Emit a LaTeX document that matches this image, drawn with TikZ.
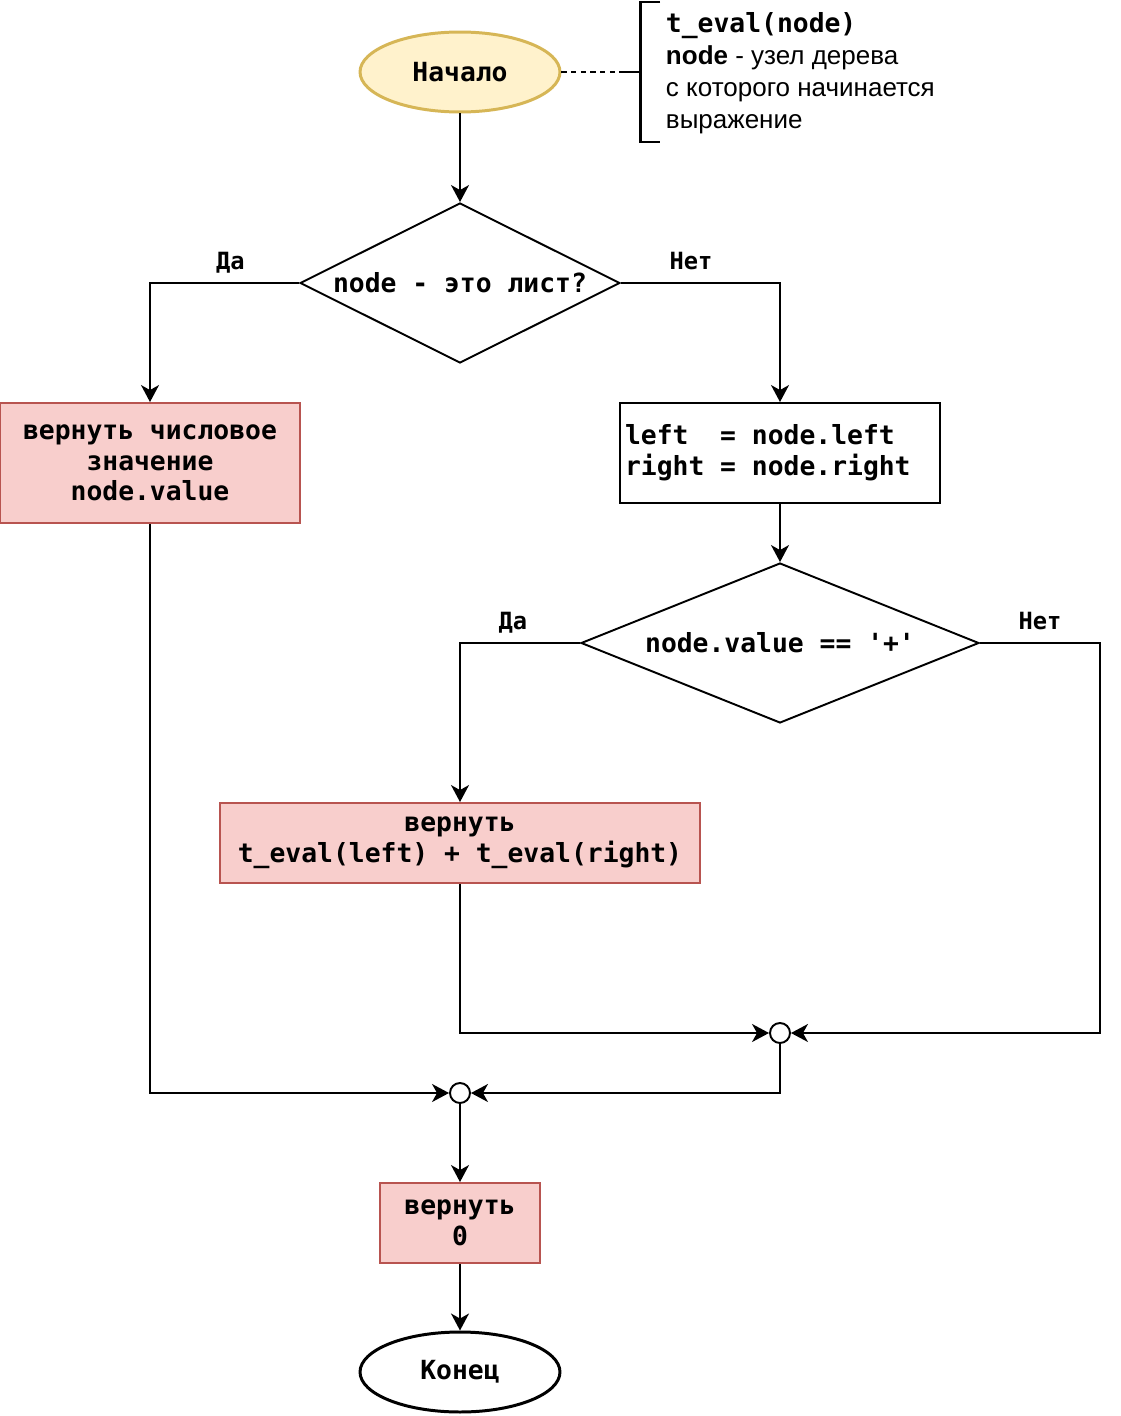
\documentclass[tikz,border=0pt]{standalone}
\usepackage{fontspec}
\setmainfont{Liberation Sans}
\setmonofont{DejaVu Sans Mono}
\usetikzlibrary{arrows.meta, positioning, shapes.geometric}
\definecolor{cyellow}{HTML}{FFF2CC}
\definecolor{cyellowd}{HTML}{D6B656}
\definecolor{cred}{HTML}{F8CECC}
\definecolor{credd}{HTML}{B85450}
\tikzset{
  every picture/.style={line width=1.1pt},
  plain/.style={execute at begin node={\spaceskip=0pt\xspaceskip=0pt}},
  code/.style={plain, font=\ttfamily\bfseries\fontsize{15}{17.5}\selectfont},
  box/.style={code, draw, rectangle, align=center, inner sep=3pt},
  ret/.style={box, draw=credd, fill=cred},
  cond/.style={code, draw, diamond, aspect=2, inner sep=0pt, minimum width=#1, minimum height=3.2cm},
  cond/.default=6.4cm,
  term/.style={code, draw, ellipse, minimum width=4cm, minimum height=1.6cm, line width=1.7pt},
  junction/.style={draw, circle, fill=white, minimum size=0.4cm, inner sep=0pt},
  arrow/.style={-{Stealth[length=0.34cm, width=0.36cm, inset=0.1cm]}},
  lbl/.style={code, font=\ttfamily\bfseries\fontsize{13.5}{16}\selectfont, anchor=base, yshift=7.9pt, inner sep=0pt},
}

\begin{document}
\begin{tikzpicture}[x=0.02cm, y=-0.02cm]
  \useasboundingbox (0,0) rectangle (1120,1416);
  \node[term, draw=cyellowd, fill=cyellow] (start) at (460,72) {Начало};
  \coordinate (brk) at (620,72);
  \draw[line width=1.7pt] (660,2) -- (640,2) -- (640,142) -- (660,142) (brk) -- (640,72);
  \draw[dash pattern=on 3pt off 2.5pt] (start) -- (brk);
  \node[plain, anchor=west, align=left, inner sep=0pt, font=\fontsize{14.8}{18.1}\selectfont] (note) at (665,73)
    {{\ttfamily\bfseries\fontsize{15}{18.1}\selectfont t\_eval(node)}\\\textbf{node} - узел дерева\\с которого начинается\\выражение};
  \node[cond] (leaf) at (460,283) {node - это лист?};
  \node[ret, minimum width=6cm, minimum height=2.4cm] (num) at (150,463) {вернуть числовое\\значение\\node.value};
  \node[box, minimum width=6.4cm, minimum height=2cm, text width=6.2cm, inner xsep=0.1cm, align=left] (split) at (780,453)
    {left\ \ = node.left\\right = node.right};
  \node[cond=7.96cm] (plus) at (780,643) {node.value == '+'};
  \node[ret, minimum width=9.6cm, minimum height=1.6cm] (sum) at (460,843) {вернуть\\t\_eval(left) + t\_eval(right)};
  \node[junction] (j1) at (780,1033) {};
  \node[junction] (j2) at (460,1093) {};
  \node[ret, minimum width=3.2cm, minimum height=1.6cm] (zero) at (460,1223) {вернуть\\0};
  \node[term] (stop) at (460,1372) {Конец};
  \draw[arrow] (start) -- (leaf);
  \draw[arrow] (leaf.west) -| node[lbl, pos=0.23] {Да} (num.north);
  \draw[arrow] (leaf.east) -| node[lbl, pos=0.22] {Нет} (split.north);
  \draw[arrow] (split) -- (plus);
  \draw[arrow] (plus.west) -| node[lbl, pos=0.28] {Да} (sum.north);
  \draw[arrow] (plus.east) -- node[lbl] {Нет} ++(120,0) |- (j1.east);
  \draw[arrow] (sum.south) |- (j1.west);
  \draw[arrow] (j1.south) |- (j2.east);
  \draw[arrow] (num.south) |- (j2.west);
  \draw[arrow] (j2) -- (zero);
  \draw[arrow] (zero) -- (stop);
\end{tikzpicture}
\end{document}
